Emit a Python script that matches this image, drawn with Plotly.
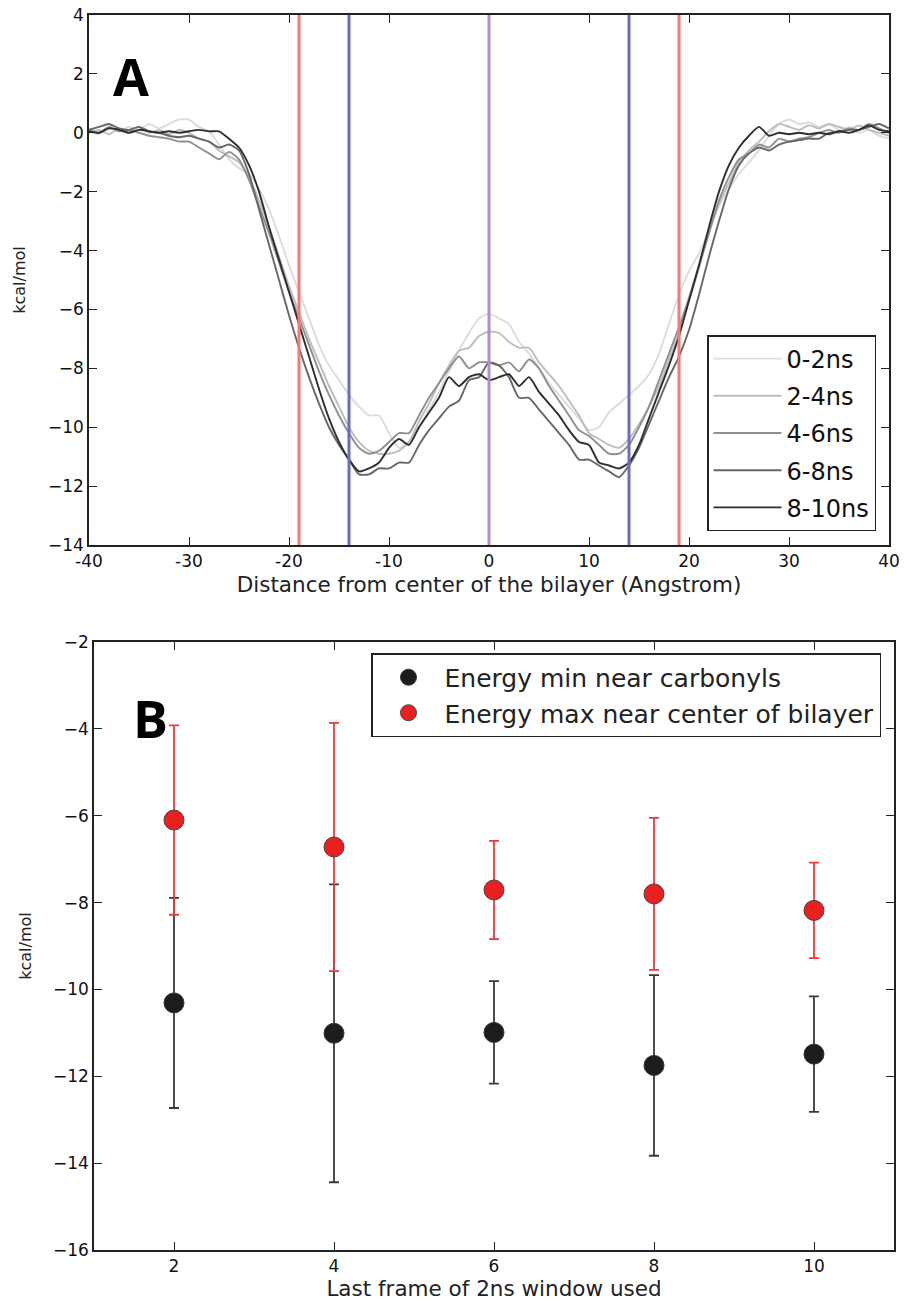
import plotly.graph_objects as go

# ---------------- Panel A data ----------------
distance = list(range(-40, 41))

pmf_0_2ns = [0.05, -0.05, 0.15, 0.05, 0.2, 0.1, 0.3, 0.15, 0.3, 0.45,
             0.45, 0.2, 0.05, -0.4, -0.9, -1.2, -1.4, -1.9, -2.6, -3.5,
             -4.5, -5.4, -6.3, -7.2, -7.9, -8.4, -8.9, -9.3, -9.6, -9.6,
             -10.2, -10.7, -10.5, -10.0, -9.4, -8.8, -8.1, -7.4, -6.8, -6.3,
             -6.15,
             -6.3, -6.5, -7.1, -7.5, -8.0, -8.5, -8.9, -9.3, -9.7, -10.1,
             -10.0, -9.5, -9.2, -8.9, -8.6, -8.2, -7.5, -6.5, -5.5, -4.7,
             -4.1, -3.3, -2.5, -1.9, -1.4, -1.0, -0.6, -0.1, 0.3, 0.45,
             0.3, 0.35, 0.2, 0.3, 0.1, 0.2, 0.0, 0.1, -0.1, -0.2]

pmf_2_4ns = [0.0, 0.1, -0.05, 0.15, 0.05, 0.2, 0.0, 0.1, -0.05, 0.1,
             0.0, -0.2, -0.3, -0.6, -0.8, -1.0, -1.5, -2.3, -3.2, -4.2,
             -5.2, -6.1, -7.0, -7.8, -8.6, -9.3, -10.0, -10.5, -10.8, -10.9,
             -10.9, -10.8, -10.5, -9.8, -9.2, -8.5, -7.9, -7.4, -7.3, -6.9,
             -6.75,
             -6.8, -7.1, -7.3, -7.3, -7.8, -8.2, -8.6, -9.1, -9.6, -10.2,
             -10.4, -10.6, -10.7, -10.4, -9.9, -9.3, -8.6, -7.7, -6.8, -5.7,
             -4.6, -3.4, -2.4, -1.7, -1.0, -0.6, -0.3, 0.05, 0.3, 0.2,
             0.1, 0.25, 0.15, 0.3, 0.2, 0.1, 0.25, 0.1, 0.0, -0.1]

pmf_4_6ns = [0.1, 0.0, 0.2, 0.05, 0.1, 0.0, -0.1, -0.15, -0.2, -0.3,
             -0.3, -0.5, -0.7, -0.9, -0.65, -0.9, -1.6, -2.5, -3.4, -4.4,
             -5.4, -6.3, -7.2, -8.1, -8.9, -9.6, -10.2, -10.7, -10.9, -10.8,
             -10.5, -10.2, -10.2, -9.6, -9.0, -8.5, -8.0, -7.6, -8.0, -7.8,
             -7.8,
             -7.9, -7.8, -8.1, -7.7, -8.0, -8.6, -9.1, -9.6, -10.1, -10.3,
             -10.6, -10.9, -10.9, -10.6, -10.0, -9.3, -8.4, -7.5, -6.6, -5.6,
             -4.5, -3.4, -2.3, -1.5, -0.9, -0.7, -0.4, -0.5, -0.2, -0.3,
             -0.2, -0.15, 0.0, 0.1, 0.0, 0.15, 0.1, 0.3, 0.15, 0.0]

pmf_6_8ns = [0.1, 0.2, 0.3, 0.15, 0.1, 0.2, 0.05, 0.0, -0.1, -0.15,
             -0.1, -0.2, -0.3, -0.5, -0.4, -0.6, -1.4, -2.6, -3.8, -5.0,
             -6.2, -7.3, -8.3, -9.2, -10.0, -10.6, -11.1, -11.6, -11.6, -11.4,
             -11.4, -11.2, -11.2, -10.6, -10.1, -9.7, -9.3, -9.1, -8.4, -8.3,
             -7.8,
             -7.9, -8.3, -9.0, -9.0, -9.4, -9.8, -10.2, -10.6, -11.1, -11.1,
             -11.3, -11.5, -11.7, -11.3, -10.7, -9.9, -9.1, -8.3, -7.6, -6.7,
             -5.5, -4.2, -3.0, -1.9, -1.1, -0.7, -0.5, -0.6, -0.4, -0.3,
             -0.25, -0.2, -0.2, 0.0, 0.05, 0.1, 0.1, 0.2, 0.3, 0.15]

pmf_8_10ns = [0.05, 0.0, 0.15, 0.1, 0.0, 0.1, 0.05, 0.0, 0.05, 0.0,
              0.05, 0.1, 0.05, 0.05, -0.2, -0.5, -1.1, -2.0, -3.2, -4.3,
              -5.4, -6.5, -7.6, -8.7, -9.7, -10.5, -11.1, -11.5, -11.4, -11.2,
              -10.7, -10.4, -10.6, -10.0, -9.5, -9.0, -8.3, -8.6, -8.3, -8.2,
              -8.4,
              -8.3, -8.2, -8.6, -8.3, -8.8, -9.2, -9.6, -10.1, -10.5, -10.6,
              -11.2, -11.3, -11.4, -11.2, -10.6, -9.7, -8.8, -7.9, -6.9, -5.7,
              -4.5, -3.2, -2.0, -1.1, -0.5, -0.1, 0.2, -0.1, 0.0, -0.05,
              0.0, -0.05, 0.0, -0.05, 0.05, 0.0, 0.1, 0.25, 0.1, 0.05]

series_names = ["0-2ns", "2-4ns", "4-6ns", "6-8ns", "8-10ns"]
series_values = [pmf_0_2ns, pmf_2_4ns, pmf_4_6ns, pmf_6_8ns, pmf_8_10ns]
series_colors = ["#dcdcdc", "#bdbdbd", "#8f8f8f", "#666666", "#2e2e2e"]

marker_lines_x = [-19, -14, 0, 14, 19]
marker_lines_color = ["#f27a7a", "#6c6cc0", "#b48ccc", "#6c6cc0", "#f27a7a"]

top_xticks = [-40, -30, -20, -10, 0, 10, 20, 30, 40]
top_xticktext = ["-40", "-30", "-20", "-10", "0", "10", "20", "30", "40"]
top_yticks = [4, 2, 0, -2, -4, -6, -8, -10, -12, -14]

# ---------------- Panel B data ----------------
window_end = [2, 4, 6, 8, 10]
min_carbonyl = [-10.31, -11.01, -10.99, -11.75, -11.49]
min_carbonyl_err = [2.42, 3.43, 1.18, 2.08, 1.33]
max_center = [-6.10, -6.72, -7.71, -7.80, -8.18]
max_center_err = [2.18, 2.86, 1.13, 1.75, 1.10]
bottom_xticks = [2, 4, 6, 8, 10]
bottom_yticks = [-2, -4, -6, -8, -10, -12, -14, -16]

W, H = 906, 1303
FONT = "DejaVu Sans"

fig = go.Figure()

for name, vals, col in zip(series_names, series_values, series_colors):
    fig.add_trace(go.Scatter(
        x=distance, y=vals, mode="lines", name=name,
        line=dict(color=col, width=1.9, shape="spline", smoothing=0.6),
        xaxis="x", yaxis="y", legend="legend", legendgroup=name,
    ))

for xv, col in zip(marker_lines_x, marker_lines_color):
    fig.add_shape(type="line", xref="x", yref="y domain", x0=xv, x1=xv, y0=0, y1=1,
                  line=dict(color=col, width=3), layer="above")

fig.add_trace(go.Scatter(
    x=window_end, y=min_carbonyl, mode="markers", name="Energy min near carbonyls",
    marker=dict(size=20, color="#1c1c1c", line=dict(color="#333333", width=1)),
    error_y=dict(type="data", array=min_carbonyl_err, color="#3a3a3a", thickness=1.8, width=5),
    xaxis="x2", yaxis="y2", legend="legend2", legendgroup="b1",
))
fig.add_trace(go.Scatter(
    x=window_end, y=max_center, mode="markers", name="Energy max near center of bilayer",
    marker=dict(size=20, color="#e8201f", line=dict(color="#444444", width=1)),
    error_y=dict(type="data", array=max_center_err, color="#f03a3a", thickness=1.8, width=5),
    xaxis="x2", yaxis="y2", legend="legend2", legendgroup="b2",
))

axis_common = dict(showgrid=False, zeroline=False, showline=True, linecolor="#222222",
                   linewidth=1.5, mirror="allticks", ticks="inside", ticklen=8,
                   tickwidth=1.2, tickcolor="#222222",
                   tickfont=dict(family=FONT, size=17, color="#111111"),
                   ticklabeloverflow="allow", automargin=False)

fig.update_layout(
    width=W, height=H, paper_bgcolor="white", plot_bgcolor="white",
    margin=dict(l=0, r=0, t=0, b=0),
    xaxis=dict(domain=[89 / W, 889 / W], range=[-40, 40], anchor="y",
               tickvals=top_xticks, ticktext=top_xticktext,
               title=dict(text="Distance from center of the bilayer (Angstrom)",
                          font=dict(family=FONT, size=21.5, color="#222222"), standoff=7),
               **axis_common),
    yaxis=dict(domain=[1 - 545 / H, 1 - 15 / H], range=[-14, 4], anchor="x",
               tickvals=top_yticks,
               title=dict(text="kcal/mol", font=dict(family=FONT, size=16, color="#222222"),
                          standoff=18),
               **axis_common),
    xaxis2=dict(domain=[94 / W, 894 / W], range=[1, 11], anchor="y2",
                tickvals=bottom_xticks,
                title=dict(text="Last frame of 2ns window used",
                           font=dict(family=FONT, size=21.5, color="#222222"), standoff=3),
                **axis_common),
    yaxis2=dict(domain=[1 - 1250 / H, 1 - 642 / H], range=[-16, -2], anchor="x2",
                tickvals=bottom_yticks,
                title=dict(text="kcal/mol", font=dict(family=FONT, size=16, color="#222222"),
                           standoff=17),
                **axis_common),
    legend=dict(x=876 / W, xanchor="right", y=1 - 335 / H, yanchor="top",
                bgcolor="white", bordercolor="#222222", borderwidth=1.5,
                font=dict(family=FONT, size=24, color="#111111"),
                tracegroupgap=3, itemwidth=68),
    legend2=dict(x=881 / W, xanchor="right", y=1 - 653 / H, yanchor="top",
                 bgcolor="white", bordercolor="#222222", borderwidth=1.5,
                 font=dict(family=FONT, size=25, color="#222222"),
                 tracegroupgap=0, itemwidth=62),
    showlegend=True,
    annotations=[
        dict(text="<b>A</b>", x=131 / W, y=1 - 76 / H, xref="paper", yref="paper",
             xanchor="center", yanchor="middle", showarrow=False,
             font=dict(family="Open Sans", size=52, color="black")),
        dict(text="<b>B</b>", x=150 / W, y=1 - 718 / H, xref="paper", yref="paper",
             xanchor="center", yanchor="middle", showarrow=False,
             font=dict(family="Open Sans", size=52, color="black")),
    ],
)

fig.write_html("out.html", config={"displayModeBar": False},
               post_script="document.body.style.margin='0';")
